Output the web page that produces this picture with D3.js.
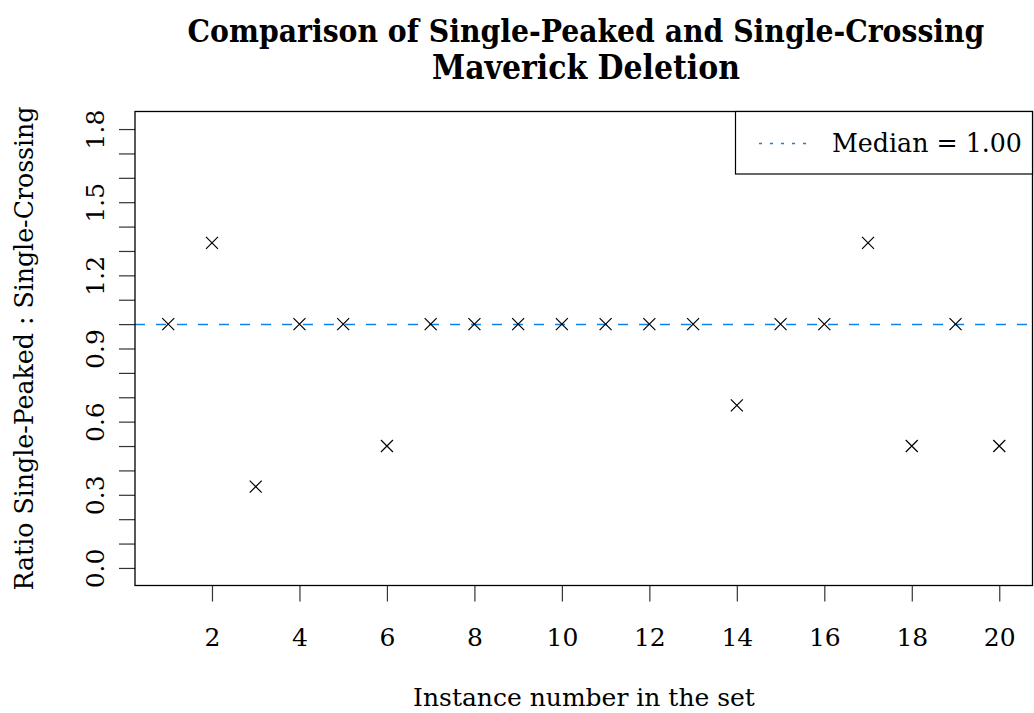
<!DOCTYPE html>
<html>
<head>
<meta charset="utf-8">
<script src="https://cdn.jsdelivr.net/npm/d3@7"></script>
<style>
  html, body { margin: 0; padding: 0; background: #fff; }
  svg { display: block; }
  text { font-family: "DejaVu Serif", "Liberation Serif", serif; fill: #000; }
  .cond { font-stretch: semi-condensed; }
</style>
</head>
<body>
<svg id="chart" width="1034" height="713"></svg>
<script>
// Ratio of single-peaked to single-crossing maverick deletion, per instance
const instances = d3.range(1, 21);
const ratios = [1, 4/3, 1/3, 1, 1, 0.5, 1, 1, 1, 1, 1, 1, 1, 2/3, 1, 1, 4/3, 0.5, 1, 0.5];
const medianValue = 1.0;
const xTickValues = [2, 4, 6, 8, 10, 12, 14, 16, 18, 20];
const yTickValues = d3.range(0, 19).map(i => i / 10);
const yLabelValues = [0, 0.3, 0.6, 0.9, 1.2, 1.5, 1.8];
const titleLines = ["Comparison of Single-Peaked and Single-Crossing", "Maverick Deletion"];
const xLabel = "Instance number in the set";
const yLabel = "Ratio Single-Peaked : Single-Crossing";
const legendLabel = "Median = " + medianValue.toFixed(2);

const svg = d3.select("#chart");
const box = { left: 135, right: 1032.5, top: 111.5, bottom: 585.5 };
const blue = "#0f82e6";

// R-style 4% padding around data limits
const xDom = [1, 20], yDom = [0, 1.8];
const xPad = (xDom[1] - xDom[0]) * 0.04, yPad = (yDom[1] - yDom[0]) * 0.04;
const x = d3.scaleLinear().domain([xDom[0] - xPad, xDom[1] + xPad]).range([box.left, box.right]);
const y = d3.scaleLinear().domain([yDom[0] - yPad, yDom[1] + yPad]).range([box.bottom, box.top]);

// fit a text element to a target width by adjusting font size
function fitText(sel, targetWidth) {
  const node = sel.node();
  const fs = parseFloat(sel.attr("font-size"));
  const w = node.getComputedTextLength();
  sel.attr("font-size", (fs * targetWidth / w).toFixed(2));
  return sel;
}

// Title
titleLines.forEach((t, i) => {
  const el = svg.append("text")
    .attr("class", "cond")
    .attr("x", 586).attr("y", i === 0 ? 42 : 79)
    .attr("text-anchor", "middle")
    .attr("font-weight", "bold")
    .attr("font-size", 30)
    .text(t);
  fitText(el, i === 0 ? 797 : 308);
});

// X axis
const xAxis = d3.axisBottom(x).tickValues(xTickValues).tickSize(16).tickFormat(d3.format("d"));
const gx = svg.append("g").attr("transform", `translate(0,${box.bottom})`).call(xAxis);
gx.select(".domain").remove();
gx.selectAll(".tick line").attr("stroke", "#333").attr("stroke-width", 1.2);
gx.selectAll(".tick text").attr("y", 0).attr("dy", 0)
  .attr("transform", "translate(0,60)")
  .attr("font-size", 25).attr("font-family", "DejaVu Serif").attr("fill", "#000");

// Y axis: minor ticks every 0.1, labels every 0.3
const yAxis = d3.axisLeft(y).tickValues(yTickValues).tickSize(16)
  .tickFormat(d => yLabelValues.some(v => Math.abs(v - d) < 1e-9) ? d3.format(".1f")(d) : "");
const gy = svg.append("g").attr("transform", `translate(${box.left},0)`).call(yAxis);
gy.select(".domain").remove();
gy.selectAll(".tick line").attr("stroke", "#333").attr("stroke-width", 1.2);
gy.selectAll(".tick text")
  .attr("x", 0).attr("dy", 0)
  .attr("transform", "translate(-31,0) rotate(-90)")
  .attr("text-anchor", "middle")
  .attr("font-size", 25).attr("font-family", "DejaVu Serif").attr("fill", "#000");

// Axis titles
fitText(svg.append("text")
  .attr("x", 584).attr("y", 706)
  .attr("text-anchor", "middle").attr("font-size", 23)
  .text(xLabel), 342);

fitText(svg.append("text")
  .attr("transform", `translate(33,${(box.top + box.bottom) / 2}) rotate(-90)`)
  .attr("text-anchor", "middle").attr("font-size", 23)
  .text(yLabel), 484);

// Median reference line
svg.append("line")
  .attr("x1", box.left).attr("x2", box.right)
  .attr("y1", Math.round(y(medianValue)) + 0.5).attr("y2", Math.round(y(medianValue)) + 0.5)
  .attr("stroke", blue).attr("stroke-width", 1.4)
  .attr("stroke-dasharray", "10,11");

// Points drawn as crosses
const half = 6;
const pts = svg.append("g").selectAll("g").data(instances).join("g")
  .attr("transform", (d, i) => `translate(${x(d)},${y(ratios[i])})`);
pts.append("path")
  .attr("d", `M${-half},${-half}L${half},${half}M${-half},${half}L${half},${-half}`)
  .attr("stroke", "#000").attr("stroke-width", 1.2).attr("fill", "none");

// Plot frame
svg.append("rect")
  .attr("x", box.left).attr("y", box.top)
  .attr("width", box.right - box.left).attr("height", box.bottom - box.top)
  .attr("fill", "none").attr("stroke", "#000").attr("stroke-width", 1.3);

// Legend
const lg = svg.append("g");
lg.append("rect")
  .attr("x", 735.5).attr("y", box.top)
  .attr("width", box.right - 735.5).attr("height", 174 - box.top)
  .attr("fill", "#fff").attr("stroke", "#000").attr("stroke-width", 1.2);
lg.append("line")
  .attr("x1", 759).attr("x2", 806).attr("y1", 143.5).attr("y2", 143.5)
  .attr("stroke", blue).attr("stroke-width", 1.4)
  .attr("stroke-dasharray", "3,8");
fitText(lg.append("text")
  .attr("x", 832).attr("y", 152).attr("font-size", 23)
  .text(legendLabel), 190);
</script>
</body>
</html>
